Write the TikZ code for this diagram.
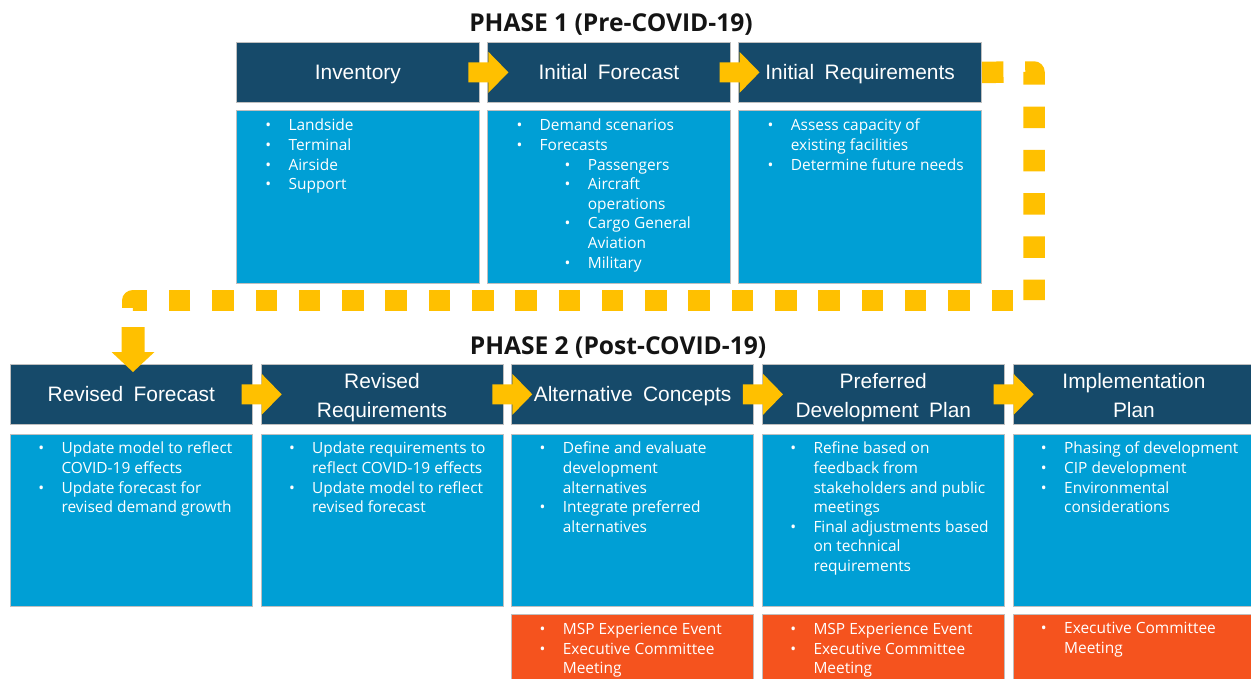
\documentclass[tikz,border=0pt]{standalone}
\usepackage{fontspec}
\setmainfont{Open Sans}
\newfontfamily\hdrfont[WordSpace=1.8]{Liberation Sans}
\newfontfamily\listfont{Open Sans}
\usetikzlibrary{positioning,calc}

\definecolor{hdrblue}{RGB}{22,74,106}
\definecolor{bodyblue}{RGB}{0,159,213}
\definecolor{evtorange}{RGB}{245,83,30}
\definecolor{arrowyellow}{RGB}{255,192,0}
\definecolor{titlegray}{RGB}{20,20,20}

% bullets for the lists
\newcommand{\itm}{\makebox[13.2pt][l]{\textbullet}}
\newcommand{\cnt}{\hspace*{13.2pt}}
\newcommand{\subitm}{\hspace*{27.4pt}\itm}
\newcommand{\subcnt}{\hspace*{40.6pt}}
% two-line header text
\newcommand{\twoline}[2]{\raisebox{-1.1pt}[\height][\depth]{\begin{tabular}{@{}c@{}}\rule{0pt}{12.8pt}#1\\#2\end{tabular}}}
% block arrow between two header boxes
\newcommand{\flowarrow}[2]{\fill[arrowyellow] ($(#1.east)!.5!(#2.west)$) ++(-15,-10) -- ++(20,0) -- ++(0,-10.5) -- ++(20,20.5) -- ++(-20,20.5) -- ++(0,-10.5) -- ++(-20,0) -- cycle;}

\begin{document}
\begin{tikzpicture}[
        x=0.02cm, y=-0.02cm,
        hdr/.style={fill=hdrblue, draw=black!25, text=white, align=center, inner sep=0pt,
            minimum height=1.2cm, font=\hdrfont\fontsize{11.9}{16.4}\selectfont,
            execute at begin node=\rule{0pt}{12pt},
            execute at end node=\rule[-3.5pt]{0pt}{0pt}},
        hdrone/.style={hdr, minimum width=4.86cm},
        hdrtwo/.style={hdr, minimum width=4.84cm},
        bodyone/.style={fill=bodyblue, draw=black!25, inner sep=0pt, minimum width=4.86cm, minimum height=3.46cm},
        bodytwo/.style={fill=bodyblue, draw=black!25, inner sep=0pt, minimum width=4.84cm, minimum height=3.44cm},
        event/.style={fill=evtorange, draw=black!25, inner sep=0pt, minimum width=4.84cm, minimum height=1.32cm},
        listtext/.style={anchor=north west, inner sep=0pt, align=left, text=white,
            font=\listfont\fontsize{8.8}{11.17}\selectfont},
        phase/.style={font=\bfseries\fontsize{14}{16}\selectfont, text=titlegray},
        dotline/.style={arrowyellow, line width=0.43cm, line join=round, dash pattern=on 0.43cm off 0.436cm},
    ]
    \useasboundingbox (0,0) rectangle (1251,679);

    % phase 1
    \node[phase] (p1) at (611,25) {PHASE 1 (Pre-COVID-19)};
    \node[hdrone, anchor=north west] (inv) at (236,42) {Inventory};
    \node[hdrone, right=0.15cm of inv] (ifc) {Initial Forecast};
    \node[hdrone, right=0.15cm of ifc] (ireq) {Initial Requirements};
    \node[bodyone, below=0.14cm of inv] (invbody) {};
    \node[bodyone, below=0.14cm of ifc] (ifcbody) {};
    \node[bodyone, below=0.14cm of ireq] (ireqbody) {};

    \node[listtext] (invlist) at ($(invbody.north west)+(29,7)$) {\strut\itm Landside\\
        \itm Terminal\\
        \itm Airside\\
        \itm Support};
    \node[listtext] (ifclist) at ($(ifcbody.north west)+(29,7)$) {\strut\itm Demand scenarios\\
        \itm Forecasts\\
        \subitm Passengers\\
        \subitm Aircraft\\
        \subcnt operations\\
        \subitm Cargo General\\
        \subcnt Aviation\\
        \subitm Military};
    \node[listtext] (ireqlist) at ($(ireqbody.north west)+(29,7)$) {\strut\itm Assess capacity of\\
        \cnt existing facilities\\
        \itm Determine future needs};

    % phase 2
    \node[phase] (p2) at (618,348) {PHASE 2 (Post-COVID-19)};
    \node[hdrtwo, anchor=north west] (rfc) at (10,364) {Revised Forecast};
    \node[hdrtwo, right=0.16cm of rfc] (rreq) {\twoline{Revised}{Requirements}};
    \node[hdrtwo, right=0.16cm of rreq] (alt) {Alternative Concepts};
    \node[hdrtwo, right=0.16cm of alt] (pdp) {\twoline{Preferred}{Development Plan}};
    \node[hdrtwo, right=0.16cm of pdp] (impl) {\twoline{Implementation}{Plan}};
    \node[bodytwo, below=0.18cm of rfc] (rfcbody) {};
    \node[bodytwo, below=0.18cm of rreq] (rreqbody) {};
    \node[bodytwo, below=0.18cm of alt] (altbody) {};
    \node[bodytwo, below=0.18cm of pdp] (pdpbody) {};
    \node[bodytwo, below=0.18cm of impl] (implbody) {};
    \node[event, below=0.16cm of altbody] (altevt) {};
    \node[event, below=0.16cm of pdpbody] (pdpevt) {};
    \node[event, below=0.16cm of implbody] (implevt) {};

    \node[listtext] (rfclist) at ($(rfcbody.north west)+(28,6)$) {\strut\itm Update model to reflect\\
        \cnt COVID-19 effects\\
        \itm Update forecast for\\
        \cnt revised demand growth};
    \node[listtext] (rreqlist) at ($(rreqbody.north west)+(28,6)$) {\strut\itm Update requirements to\\
        \cnt reflect COVID-19 effects\\
        \itm Update model to reflect\\
        \cnt revised forecast};
    \node[listtext] (altlist) at ($(altbody.north west)+(28,6)$) {\strut\itm Define and evaluate\\
        \cnt development\\
        \cnt alternatives\\
        \itm Integrate preferred\\
        \cnt alternatives};
    \node[listtext] (pdplist) at ($(pdpbody.north west)+(28,6)$) {\strut\itm Refine based on\\
        \cnt feedback from\\
        \cnt stakeholders and public\\
        \cnt meetings\\
        \itm Final adjustments based\\
        \cnt on technical\\
        \cnt requirements};
    \node[listtext] (impllist) at ($(implbody.north west)+(28,6)$) {\strut\itm Phasing of development\\
        \itm CIP development\\
        \itm Environmental\\
        \cnt considerations};
    \node[listtext] (altevtlist) at ($(altevt.north west)+(28,6)$) {\strut\itm MSP Experience Event\\
        \itm Executive Committee\\
        \cnt Meeting};
    \node[listtext] (pdpevtlist) at ($(pdpevt.north west)+(28,6)$) {\strut\itm MSP Experience Event\\
        \itm Executive Committee\\
        \cnt Meeting};
    \node[listtext] (implevtlist) at ($(implevt.north west)+(28,5)$) {\strut\itm Executive Committee\\
        \cnt Meeting};

    % dotted link from phase 1 to phase 2
    \draw[dotline] (ireq.east) -- (1034,72) -- (1034,300);
    \coordinate (turn) at (1013,300.5);
    \draw[dotline] (turn) -- (133,300.5) -- (133,313);
    \coordinate (drop) at (133,327);
    \fill[arrowyellow] (drop) ++(-11.5,0) -- ++(23,0) -- ++(0,25) -- ++(10,0) -- ++(-21.5,20) -- ++(-21.5,-20) -- ++(10,0) -- cycle;

    % arrows between the steps
    \flowarrow{inv}{ifc}
    \flowarrow{ifc}{ireq}
    \flowarrow{rfc}{rreq}
    \flowarrow{rreq}{alt}
    \flowarrow{alt}{pdp}
    \flowarrow{pdp}{impl}
\end{tikzpicture}
\end{document}
